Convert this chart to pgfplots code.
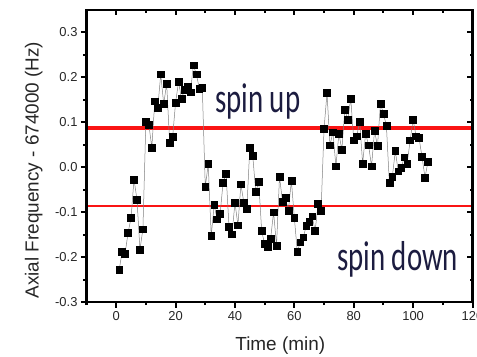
\documentclass[border=0pt]{standalone}
\usepackage{pgfplots}
\pgfplotsset{compat=1.18}
\usepackage{graphicx}
\usepackage{fontspec}
\setmainfont{Liberation Sans}
\newfontfamily\calibri{Carlito}
\definecolor{navy}{RGB}{28,28,64}
\definecolor{redline}{RGB}{250,20,20}

\pgfplotstableread{
t y
1 -0.229
2 -0.188
3 -0.192
4 -0.146
5 -0.113
6 -0.027
7 -0.072
8 -0.183
9 -0.138
10 0.102
11 0.095
12 0.044
13 0.147
14 0.132
15 0.207
16 0.141
17 0.186
18 0.055
19 0.067
20 0.144
21 0.190
22 0.152
23 0.173
24 0.180
25 0.167
26 0.227
27 0.207
28 0.175
29 0.177
30 -0.044
31 0.007
32 -0.153
33 -0.084
34 -0.116
35 -0.104
36 -0.034
37 -0.014
38 -0.133
39 -0.149
40 -0.079
41 -0.129
42 -0.038
43 -0.079
44 -0.092
45 0.044
46 0.025
47 -0.055
48 -0.033
49 -0.142
50 -0.171
51 -0.177
52 -0.160
53 -0.100
54 -0.174
55 -0.021
56 -0.076
57 -0.068
58 -0.096
59 -0.030
60 -0.113
61 -0.188
62 -0.167
63 -0.156
64 -0.131
65 -0.121
66 -0.109
67 -0.142
68 -0.082
69 -0.097
70 0.086
71 0.165
72 0.049
73 0.078
74 0.002
75 0.075
76 0.039
77 0.128
78 0.106
79 0.153
80 0.060
81 0.069
82 0.102
83 0.008
84 0.075
85 0.049
86 0.002
87 0.081
88 0.047
89 0.142
90 0.119
91 0.093
92 -0.035
93 -0.021
94 0.036
95 -0.009
96 -0.001
97 0.022
98 0.008
99 0.060
100 0.106
101 0.069
102 0.065
103 0.023
104 -0.023
105 0.012
}\datatable

\begin{document}
\begin{tikzpicture}
\useasboundingbox (0bp,0bp) rectangle (477bp,357bp);
\pgfplotsset{
  frame/.style={
    at={(86.5bp,55bp)}, anchor=south west,
    scale only axis, width=386bp, height=292bp,
    xmin=-10, xmax=120, ymin=-0.3, ymax=0.35,
    axis line style={line width=2.6bp, black},
    xtick={0,20,40,60,80,100,120},
    minor xtick={-10,10,30,50,70,90,110},
    ytick={-0.3,-0.2,-0.1,0,0.1,0.2,0.3},
    minor ytick={-0.25,-0.15,-0.05,0.05,0.15,0.25},
    major tick length=5.5bp, minor tick length=3bp,
    every tick/.append style={line width=2bp, black},
  }
}
\begin{axis}[frame,
  tick align=outside, xtick pos=left, ytick pos=left,
  /pgf/number format/assume math mode=true,
  tick label style={font=\fontsize{13}{13}\selectfont, text=black!85},
  yticklabel style={/pgf/number format/.cd, fixed, fixed zerofill, precision=1},
  xlabel={Time (min)},
  ylabel={Axial Frequency - 674000 (Hz)},
  label style={font=\fontsize{19}{19}\selectfont, text=black!85},
  xlabel style={at={(axis description cs:0.502,-0.151)}, anchor=center},
  ylabel style={at={(axis description cs:-0.137,0.452)}, anchor=center},
]
\addplot[redline, line width=4bp, forget plot] coordinates {(-10,0.087) (120,0.087)};
\addplot[redline, line width=2.3bp, forget plot] coordinates {(-10,-0.087) (120,-0.087)};
\addplot[color=gray, line width=0.5bp, mark=square*, mark size=3.4bp,
  mark options={black, fill=black, solid}] table[x=t, y=y] {\datatable};
\end{axis}
\begin{axis}[frame,
  tick align=inside, xtick pos=right, ytick pos=right,
  xticklabels={}, yticklabels={},
]
\end{axis}
\node[anchor=base west, inner sep=0pt, text=navy] at (215bp,244bp)
  {\scalebox{0.69}[1]{\fontsize{42}{42}\calibri spin up}};
\node[anchor=base west, inner sep=0pt, text=navy] at (337bp,86bp)
  {\scalebox{0.69}[1]{\fontsize{42}{42}\calibri spin down}};
\end{tikzpicture}
\end{document}
